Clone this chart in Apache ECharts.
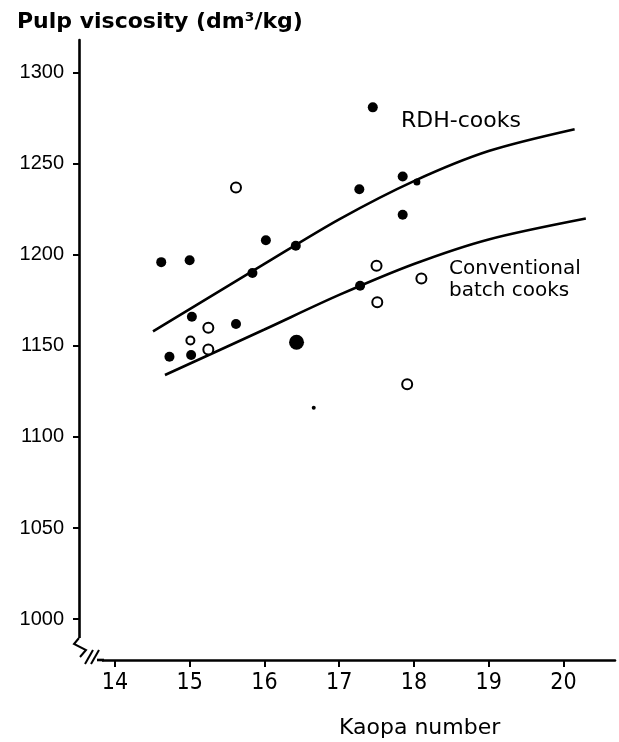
<!DOCTYPE html>
<html>
<head>
<meta charset="utf-8">
<script src="https://cdn.jsdelivr.net/npm/echarts@6/dist/echarts.min.js"></script>
<style>
  html, body { margin: 0; padding: 0; background: #fff; }
  #chart { width: 619px; height: 742px; }
</style>
</head>
<body>
<div id="chart"></div>
<script>
// tick labels
var xTicks = [14, 15, 16, 17, 18, 19, 20];
var yTicks = [1000, 1050, 1100, 1150, 1200, 1250, 1300];

// filled dots
var filledPts = [
    [17.45, 1281], [17.85, 1243], [17.27, 1236], [17.85, 1222],
    [16.02, 1208], [16.42, 1205], [14.62, 1196], [15.00, 1197],
    [15.84, 1190], [17.28, 1183], [15.03, 1166], [15.62, 1162],
    [14.73, 1144], [15.02, 1145]
];
var filledSmallPts = [[18.04, 1240]];
var filledBigPts = [[16.43, 1152]];
var filledTinyPts = [[16.66, 1116]];

// open circles
var openPts = [
    [15.62, 1237], [17.50, 1194], [18.10, 1187], [15.25, 1160],
    [17.51, 1174], [15.25, 1148], [17.91, 1129]
];
var openSmallPts = [[15.01, 1153]];

// fitted curves
var rdhCurve = [
    [14.51, 1158], [16.0, 1195], [17.0, 1219.5], [18.0, 1240.5],
    [19.0, 1257], [20.15, 1269]
];
var convCurve = [
    [14.67, 1134], [16.0, 1159], [17.0, 1178], [18.0, 1195],
    [19.0, 1208.5], [20.3, 1220]
];

var chart = echarts.init(document.getElementById('chart'));

var lineStyle = {color: '#000', width: 2.6};

function filled(data, size){
    return {
        type: 'scatter', data: data, symbolSize: size, z: 5,
        itemStyle: {color: '#000', opacity: 1}
    };
}
function hollow(data, size){
    return {
        type: 'scatter', data: data, symbolSize: size, z: 5,
        itemStyle: {color: '#fff', borderColor: '#000', borderWidth: 2, opacity: 1}
    };
}
function curve(data){
    return {
        type: 'line', data: data, smooth: 0.3,
        showSymbol: false, lineStyle: lineStyle, z: 3
    };
}

var option = {
    animation: false,
    backgroundColor: '#fff',
    title: [{
        text: 'Pulp viscosity (dm³/kg)',
        left: 12, top: 6,
        textStyle: {fontFamily: 'DejaVu Sans', fontSize: 22, fontWeight: 'bold', color: '#000'}
    }, {
        text: 'Kaopa number',
        left: 334, top: 712,
        textStyle: {fontFamily: 'DejaVu Sans', fontSize: 22, fontWeight: 'normal', color: '#000'}
    }],
    grid: {left: 79, right: 4, top: 40, bottom: 82, containLabel: false},
    xAxis: {
        type: 'value', min: 13.52, max: 20.69,
        axisLine: {lineStyle: lineStyle},
        axisTick: {customValues: xTicks, length: 7, lineStyle: {color: '#000', width: 2}},
        axisLabel: {customValues: xTicks, margin: 12, color: '#000', fontSize: 23,
            fontFamily: "'Liberation Sans Narrow', 'DejaVu Sans Condensed', 'Liberation Sans'"},
        splitLine: {show: false}
    },
    yAxis: {
        type: 'value', min: 977.5, max: 1318,
        axisLine: {lineStyle: lineStyle},
        axisTick: {customValues: yTicks, length: 6, lineStyle: {color: '#000', width: 2}},
        axisLabel: {customValues: yTicks, margin: 15, color: '#000', fontSize: 20,
            fontFamily: "'Liberation Sans'",
            formatter: function(v){ return String(v); }},
        splitLine: {show: false}
    },
    graphic: [
        // axis break at the origin
        {type: 'rect', shape: {x: 70, y: 638, width: 32, height: 28}, style: {fill: '#fff'}, z: 100},
        {type: 'polyline', shape: {points: [[79, 638], [74, 644], [86, 650], [80, 657]]},
            style: {stroke: '#000', lineWidth: 2, fill: null}, z: 101},
        {type: 'line', shape: {x1: 85, y1: 664, x2: 93, y2: 650}, style: {stroke: '#000', lineWidth: 2}, z: 101},
        {type: 'line', shape: {x1: 91, y1: 664, x2: 99, y2: 650}, style: {stroke: '#000', lineWidth: 2}, z: 101},
        {type: 'line', shape: {x1: 97, y1: 660, x2: 104, y2: 660}, style: {stroke: '#000', lineWidth: 2.6}, z: 101},
        // curve labels
        {type: 'text', left: 401, top: 110, z: 10,
            style: {text: 'RDH-cooks', fontFamily: 'DejaVu Sans', fontSize: 22, fill: '#000'}},
        {type: 'text', left: 449, top: 258, z: 10,
            style: {text: 'Conventional\nbatch cooks', fontFamily: 'DejaVu Sans', fontSize: 20,
                lineHeight: 22, fill: '#000'}}
    ],
    series: [
        curve(rdhCurve),
        curve(convCurve),
        filled(filledPts, 10),
        filled(filledSmallPts, 7),
        filled(filledBigPts, 15),
        filled(filledTinyPts, 4),
        hollow(openPts, 10),
        hollow(openSmallPts, 8)
    ]
};

chart.setOption(option);
</script>
</body>
</html>
